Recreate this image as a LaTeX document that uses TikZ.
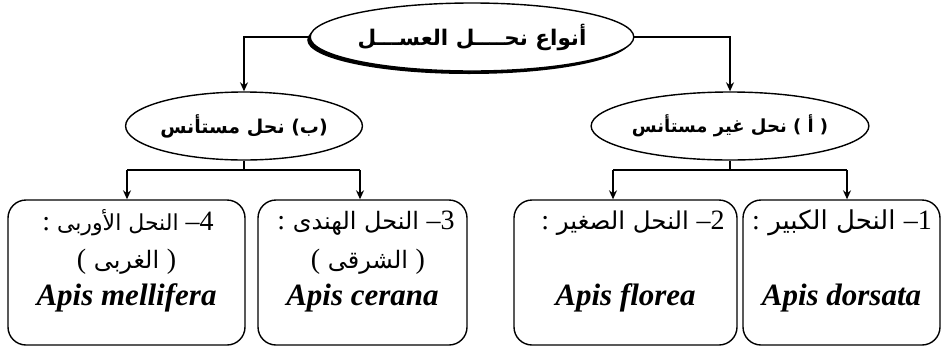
\documentclass[tikz,border=0pt]{standalone}
\usepackage{fontspec}
\setmainfont{Liberation Serif}
\newfontfamily\arabicfont[Script=Arabic]{DejaVu Sans}
\TeXXeTstate=1
\usetikzlibrary{shapes.geometric,arrows.meta,shadows}
\tikzset{
  ln/.style={line width=1.4pt},
  arr/.style={ln,-{Stealth[length=9pt,width=8pt]}},
  ell/.style={ellipse,draw,line width=1.4pt,fill=white,inner sep=0pt,
    font=\arabicfont\bfseries\fontsize{19}{22}\selectfont},
  box/.style={draw,line width=1.4pt,rounded corners=18pt},
  ar/.style={inner sep=0pt,font=\arabicfont\fontsize{#1}{32}\selectfont},
  arb/.style={inner sep=0pt,font=\arabicfont\fontsize{24}{30}\selectfont},
  la/.style={inner sep=0pt,font=\bfseries\itshape\fontsize{31}{36}\selectfont},
}
\newcommand{\rmbig}{\rmfamily\fontsize{28}{32}\selectfont}
\begin{document}
\begin{tikzpicture}[x=1pt,y=-1pt]
\useasboundingbox (0,0) rectangle (945,354);
% ellipses
\node[ell,minimum width=295pt,minimum height=68pt,
  font=\arabicfont\bfseries\fontsize{21.5}{24}\selectfont,
  drop shadow={shadow xshift=-3pt,shadow yshift=-3pt,fill=black,opacity=1}]
  (top) at (472,37) {\beginR أنواع نحــــل العســـل\endR};
\node[ell,minimum width=218pt,minimum height=68pt] (L) at (244,126)
  {\beginR (ب) نحل مستأنس\endR};
\node[ell,minimum width=217pt,minimum height=68pt,
  font=\arabicfont\bfseries\fontsize{18}{22}\selectfont] (R) at (730,126)
  {\beginR ( أ ) نحل غير مستأنس\endR};
% boxes
\node[box,minimum width=237pt,minimum height=145pt] (b4) at (126.5,272.5) {};
\node[box,minimum width=209pt,minimum height=145pt] (b3) at (362.5,272.5) {};
\node[box,minimum width=223pt,minimum height=145pt] (b2) at (625.5,272.5) {};
\node[box,minimum width=197pt,minimum height=145pt] (b1) at (841.5,272.5) {};
% box texts
\node[ar=22] (t4a) at (128,223) {\beginR {\rmbig –4} النحل الأوربى {\rmbig :}\endR};
\node[arb] (t4b) at (126.5,262) {{\rmbig (} \beginR الغربى\endR{} {\rmbig )}};
\node[la] (t4c) at (126.5,298) {Apis mellifera};
\node[ar=24] (t3a) at (366,223) {\beginR {\rmbig –3} النحل الهندى {\rmbig :}\endR};
\node[arb] (t3b) at (368,262) {{\rmbig (} \beginR الشرقى\endR{} {\rmbig )}};
\node[la] (t3c) at (362.5,298) {Apis cerana};
\node[ar=24.5] (t2a) at (633,223) {\beginR {\rmbig –2} النحل الصغير {\rmbig :}\endR};
\node[la] (t2c) at (625.5,298) {Apis florea};
\node[ar=26] (t1a) at (842,223) {\beginR {\rmbig –1} النحل الكبير {\rmbig :}\endR};
\node[la] (t1c) at (841.5,298) {Apis dorsata};
% connectors
\draw[arr] (top.west) -| (L.north);
\draw[arr] (top.east) -| (R.north);
\coordinate (L4) at (127,170);
\coordinate (L3) at (360,170);
\coordinate (R2) at (613,170);
\coordinate (R1) at (847,170);
\draw[ln] (L.south) -- (L.south |- L4);
\draw[ln] (L4) -- (L3);
\draw[arr] (L4) -- (L4 |- b4.north);
\draw[arr] (L3) -- (L3 |- b3.north);
\draw[ln] (R.south) -- (R.south |- R2);
\draw[ln] (R2) -- (R1);
\draw[arr] (R2) -- (R2 |- b2.north);
\draw[arr] (R1) -- (R1 |- b1.north);
\end{tikzpicture}
\end{document}
